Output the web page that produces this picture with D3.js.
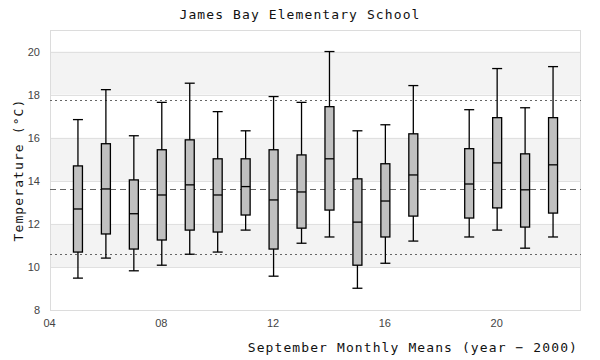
<!DOCTYPE html>
<html>
<head>
<meta charset="utf-8">
<script src="https://cdn.jsdelivr.net/npm/d3@7"></script>
<style>
  html, body { margin: 0; padding: 0; background: #fff; }
  svg { display: block; }
  .mono { font-family: "DejaVu Sans Mono", monospace; font-size: 13px; fill: #111; letter-spacing: 1.1px; }
  .tick text { font-family: "Liberation Sans", Arial, sans-serif; font-size: 11px; fill: #444; }
</style>
</head>
<body>
<svg id="chart" width="600" height="360"></svg>
<script>
const years       = [5, 6, 7, 8, 9, 10, 11, 12, 13, 14, 15, 16, 17, 19, 20, 21, 22];
const whiskerHigh = [16.84, 18.23, 16.09, 17.64, 18.53, 17.21, 16.32, 17.91, 17.64, 20.00, 16.32, 16.60, 18.42, 17.30, 19.21, 17.39, 19.30];
const q3          = [14.69, 15.72, 14.04, 15.44, 15.90, 15.02, 15.02, 15.44, 15.20, 17.44, 14.09, 14.79, 16.18, 15.49, 16.93, 15.25, 16.93];
const medians     = [12.69, 13.62, 12.47, 13.34, 13.81, 13.34, 13.73, 13.11, 13.48, 15.02, 12.08, 13.06, 14.27, 13.85, 14.83, 13.58, 14.74];
const q1          = [10.69, 11.53, 10.83, 11.25, 11.71, 11.62, 12.41, 10.83, 11.80, 12.64, 10.08, 11.39, 12.36, 12.27, 12.74, 11.85, 12.50];
const whiskerLow  = [9.48, 10.41, 9.82, 10.08, 10.59, 10.69, 11.71, 9.57, 11.10, 11.39, 9.01, 10.17, 11.20, 11.39, 11.71, 10.87, 11.39];
const overallMean = 13.62;
const upperRef    = 17.74;
const lowerRef    = 10.60;
const xTicks      = [4, 8, 12, 16, 20];
const yTicks      = [8, 10, 12, 14, 16, 18, 20];
const bandStarts  = [10, 14, 18];

const svg = d3.select("#chart");
const pLeft = 50, pRight = 581, pTop = 30, pBottom = 310;
const x = d3.scaleLinear().domain([4, 23]).range([pLeft, pRight]);
const y = d3.scaleLinear().domain([8, 21]).range([pBottom, pTop]);

// bands
svg.append("g").selectAll("rect").data(bandStarts).join("rect")
  .attr("x", pLeft).attr("width", pRight - pLeft)
  .attr("y", d => y(d + 2)).attr("height", d => y(d) - y(d + 2))
  .attr("fill", "#f3f3f3");

// grid
svg.append("g").selectAll("line").data(yTicks.filter(d => d > 8)).join("line")
  .attr("x1", pLeft).attr("x2", pRight)
  .attr("y1", d => Math.round(y(d)) + 0.5).attr("y2", d => Math.round(y(d)) + 0.5)
  .attr("stroke", "#e0e0e0").attr("stroke-width", 1);

// frame
svg.append("rect").attr("x", pLeft + 0.5).attr("y", pTop + 0.5)
  .attr("width", pRight - pLeft - 1).attr("height", pBottom - pTop)
  .attr("fill", "none").attr("stroke", "#dcdcdc").attr("stroke-width", 1);

// reference lines
function refLine(v, dash, color) {
  svg.append("line").attr("x1", pLeft).attr("x2", pRight)
    .attr("y1", Math.round(y(v)) + 0.5).attr("y2", Math.round(y(v)) + 0.5)
    .attr("stroke", color).attr("stroke-width", 1).attr("stroke-dasharray", dash);
}
refLine(upperRef, "2,3", "#666");
refLine(lowerRef, "2,3", "#666");
refLine(overallMean, "6,4", "#666");

// boxes
const data = years.map((yr, i) => ({yr, hi: whiskerHigh[i], q3: q3[i], med: medians[i], q1: q1[i], lo: whiskerLow[i]}));
const bw = 9, cw = 10;
const g = svg.append("g").selectAll("g").data(data).join("g");
g.append("line").attr("x1", d => x(d.yr)).attr("x2", d => x(d.yr))
  .attr("y1", d => y(d.hi)).attr("y2", d => y(d.lo))
  .attr("stroke", "#000").attr("stroke-width", 1.3);
g.append("line").attr("x1", d => x(d.yr) - cw / 2).attr("x2", d => x(d.yr) + cw / 2)
  .attr("y1", d => y(d.hi)).attr("y2", d => y(d.hi))
  .attr("stroke", "#000").attr("stroke-width", 1.3);
g.append("line").attr("x1", d => x(d.yr) - cw / 2).attr("x2", d => x(d.yr) + cw / 2)
  .attr("y1", d => y(d.lo)).attr("y2", d => y(d.lo))
  .attr("stroke", "#000").attr("stroke-width", 1.3);
g.append("rect").attr("x", d => x(d.yr) - bw / 2).attr("width", bw)
  .attr("y", d => y(d.q3)).attr("height", d => y(d.q1) - y(d.q3))
  .attr("fill", "#c0c0c0").attr("stroke", "#000").attr("stroke-width", 1.3);
g.append("line").attr("x1", d => x(d.yr) - bw / 2).attr("x2", d => x(d.yr) + bw / 2)
  .attr("y1", d => y(d.med)).attr("y2", d => y(d.med))
  .attr("stroke", "#000").attr("stroke-width", 1.3);

// axes
const xAxis = d3.axisBottom(x).tickValues(xTicks).tickFormat(d3.format("02d")).tickSize(0).tickPadding(9);
svg.append("g").attr("transform", `translate(-1,${pBottom})`).call(xAxis).call(s => s.select(".domain").remove());
const yAxis = d3.axisLeft(y).tickValues(yTicks).tickFormat(d3.format("d")).tickSize(0).tickPadding(10);
svg.append("g").attr("transform", `translate(${pLeft},0)`).call(yAxis).call(s => s.select(".domain").remove());

// titles
svg.append("text").attr("class", "mono").attr("x", 300).attr("y", 19).attr("text-anchor", "middle")
  .text("James Bay Elementary School");
svg.append("text").attr("class", "mono").attr("x", 578).attr("y", 352).attr("text-anchor", "end")
  .text("September Monthly Means (year − 2000)");
svg.append("text").attr("class", "mono").attr("transform", "translate(23,170) rotate(-90)").attr("text-anchor", "middle")
  .text("Temperature (°C)");
</script>
</body>
</html>
